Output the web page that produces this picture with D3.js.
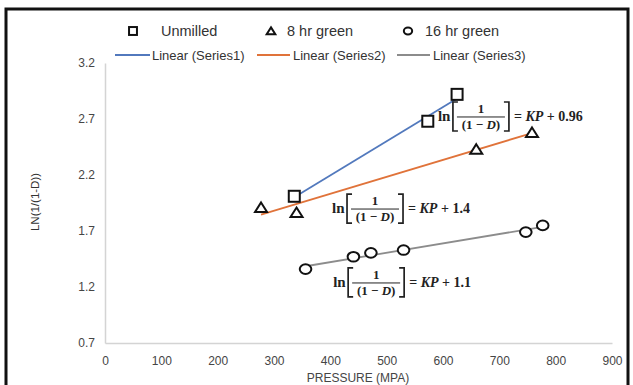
<!DOCTYPE html>
<html>
<head>
<meta charset="utf-8">
<script src="https://cdn.jsdelivr.net/npm/d3@7"></script>
<style>
  body { margin: 0; background: #fff; }
  svg text { font-family: "Liberation Sans", Arial, sans-serif; }
  .eq text { font-family: "Liberation Serif", "DejaVu Serif", serif; font-weight: bold; fill: #222; }
</style>
</head>
<body>
<div class="chart"></div>
<script>
// values
var unmilledP = [336, 573, 625];
var unmilledV = [2.01, 2.68, 2.92];
var green8P = [277, 340, 659, 758];
var green8V = [1.91, 1.865, 2.43, 2.58];
var green16P = [356, 441, 472, 530, 747, 777];
var green16V = [1.36, 1.47, 1.505, 1.53, 1.69, 1.75];

var xTicks = [0, 100, 200, 300, 400, 500, 600, 700, 800, 900];
var yTicks = [0.7, 1.2, 1.7, 2.2, 2.7, 3.2];

var eqLabels = [
  {p: 591, v: 2.727, c: "0.96"},
  {p: 403, v: 1.905, c: "1.4"},
  {p: 405, v: 1.245, c: "1.1"}
];

var series = [
  {name: "Unmilled", p: unmilledP, v: unmilledV, shape: "square", line: "#5279bd"},
  {name: "8 hr green", p: green8P, v: green8V, shape: "triangle", line: "#e0733a"},
  {name: "16 hr green", p: green16P, v: green16V, shape: "circle", line: "#8c8c8c"}
];

var W = 633, H = 385;
var svg = d3.select('.chart').append('svg')
  .attr('width', W).attr('height', H);

// frame
svg.append('rect')
  .attr('x', 6).attr('y', 9).attr('width', 622).attr('height', 400)
  .attr('fill', 'none').attr('stroke', '#111').attr('stroke-width', 3);

var x = d3.scaleLinear().domain([0, 900]).range([105, 612]);
var y = d3.scaleLinear().domain([0.7, 3.2]).range([343, 63]);

// axes
var xAxis = svg.append('g').attr('transform', 'translate(0,343)')
  .call(d3.axisBottom(x).tickValues(xTicks).tickSize(0).tickPadding(13));
var yAxis = svg.append('g').attr('transform', 'translate(105,0)')
  .call(d3.axisLeft(y).tickValues(yTicks).tickSize(0).tickPadding(10)
    .tickFormat(d3.format('.1f')));
[xAxis, yAxis].forEach(function (a) {
  a.select('.domain').attr('stroke', '#d4d4d4').attr('stroke-width', 1.5);
  a.selectAll('text').attr('fill', '#454545').style('font-size', '12px');
});

svg.append('text')
  .attr('x', 358).attr('y', 382)
  .attr('text-anchor', 'middle')
  .style('font-size', '12px').attr('fill', '#454545')
  .text('PRESSURE (MPA)');
svg.append('text')
  .attr('transform', 'translate(39,202) rotate(-90)')
  .attr('text-anchor', 'middle')
  .style('font-size', '11.5px').attr('fill', '#333')
  .text('LN(1/(1-D))');

// trend lines (least squares)
function fit(px, py) {
  var mx = d3.mean(px), my = d3.mean(py);
  var sxy = d3.sum(px, function (d, i) { return (d - mx) * (py[i] - my); });
  var sxx = d3.sum(px, function (d) { return (d - mx) * (d - mx); });
  var k = sxy / sxx;
  return function (p) { return my + k * (p - mx); };
}
var line = d3.line()
  .x(function (d) { return x(d[0]); })
  .y(function (d) { return y(d[1]); });

series.forEach(function (s) {
  var f = fit(s.p, s.v);
  var ends = d3.extent(s.p);
  svg.append('path')
    .attr('d', line(ends.map(function (p) { return [p, f(p)]; })))
    .attr('fill', 'none').attr('stroke', s.line).attr('stroke-width', 1.8);
});

// markers
function marker(g, shape, k) {
  k = k || 1;
  if (shape === 'square') {
    g.append('rect').attr('x', -5.5 * k).attr('y', -5.5 * k)
      .attr('width', 11 * k).attr('height', 11 * k);
  } else if (shape === 'triangle') {
    g.append('path').attr('d', 'M0,' + (-5 * k) + 'L' + (6 * k) + ',' + (4.5 * k) +
      'L' + (-6 * k) + ',' + (4.5 * k) + 'Z');
  } else {
    g.append('ellipse').attr('rx', 5.8 * k).attr('ry', 4.8 * k);
  }
  g.selectAll('*').attr('fill', '#fff').attr('stroke', '#111').attr('stroke-width', 2);
}

series.forEach(function (s) {
  svg.append('g').selectAll('g')
    .data(s.p.map(function (p, i) { return [p, s.v[i]]; }))
    .enter().append('g')
    .attr('transform', function (d) { return 'translate(' + x(d[0]) + ',' + y(d[1]) + ')'; })
    .each(function () { marker(d3.select(this), s.shape); });
});

// equations
eqLabels.forEach(function (e) {
  var g = svg.append('g').attr('class', 'eq')
    .attr('transform', 'translate(' + x(e.p) + ',' + y(e.v) + ')');
  g.append('text').attr('x', 0).attr('y', 5).style('font-size', '15px').text('ln');
  var b0 = 15, b1 = 71;
  g.append('path')
    .attr('d', 'M' + (b0 + 5) + ',-14H' + b0 + 'V15H' + (b0 + 5) +
      'M' + (b1 - 5) + ',-14H' + b1 + 'V15H' + (b1 - 5))
    .attr('fill', 'none').attr('stroke', '#222').attr('stroke-width', 1.7);
  g.append('line').attr('x1', b0 + 4).attr('x2', b1 - 4).attr('y1', 1).attr('y2', 1)
    .attr('stroke', '#222').attr('stroke-width', 1);
  g.append('text').attr('x', (b0 + b1) / 2).attr('y', -3).attr('text-anchor', 'middle')
    .style('font-size', '13px').text('1');
  var t = g.append('text').attr('x', (b0 + b1) / 2).attr('y', 13).attr('text-anchor', 'middle')
    .style('font-size', '13px');
  t.append('tspan').text('(1 \u2212 ');
  t.append('tspan').style('font-style', 'italic').text('D');
  t.append('tspan').text(')');
  var r = g.append('text').attr('x', b1 + 5).attr('y', 5).style('font-size', '14px');
  r.append('tspan').text('= ');
  r.append('tspan').style('font-style', 'italic').text('KP');
  r.append('tspan').text(' + ' + e.c);
});

// legend
var leg1 = [
  {shape: 'square', mx: 133, tx: 161, label: 'Unmilled'},
  {shape: 'triangle', mx: 271, tx: 287, label: '8 hr green'},
  {shape: 'circle', mx: 408, tx: 425, label: '16 hr green'}
];
leg1.forEach(function (l) {
  var g = svg.append('g').attr('transform', 'translate(' + l.mx + ',31)');
  marker(g, l.shape, 0.72);
  svg.append('text').attr('x', l.tx).attr('y', 36)
    .style('font-size', '14.5px').attr('fill', '#333').text(l.label);
});
var leg2 = [
  {x0: 115, x1: 150, tx: 152, color: series[0].line, label: 'Linear (Series1)'},
  {x0: 257, x1: 290, tx: 293, color: series[1].line, label: 'Linear (Series2)'},
  {x0: 397, x1: 430, tx: 433, color: series[2].line, label: 'Linear (Series3)'}
];
leg2.forEach(function (l) {
  svg.append('line').attr('x1', l.x0).attr('x2', l.x1).attr('y1', 55).attr('y2', 55)
    .attr('stroke', l.color).attr('stroke-width', 1.8);
  svg.append('text').attr('x', l.tx).attr('y', 59.5)
    .style('font-size', '13px').attr('fill', '#333').text(l.label);
});
</script>
</body>
</html>
